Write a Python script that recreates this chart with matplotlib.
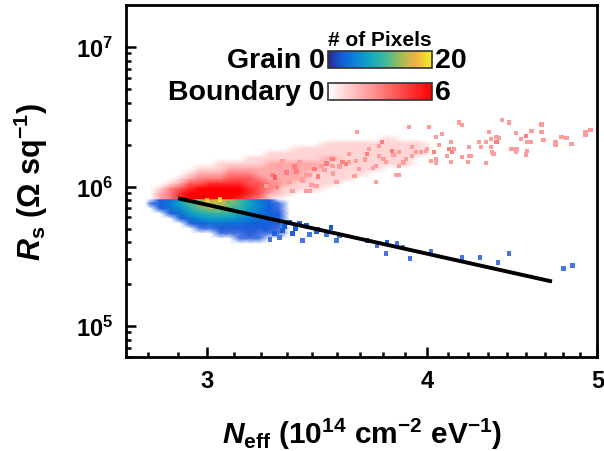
import numpy as np
import matplotlib.pyplot as plt
from matplotlib.colors import LinearSegmentedColormap, Normalize
from matplotlib.cm import ScalarMappable
from matplotlib.ticker import FixedLocator, NullFormatter

plt.rcParams['font.family'] = ['Liberation Sans', 'DejaVu Sans']
plt.rcParams['font.weight'] = 'bold'
plt.rcParams['axes.labelweight'] = 'bold'
plt.rcParams['mathtext.fontset'] = 'custom'
plt.rcParams['mathtext.rm'] = 'Liberation Sans:bold'
plt.rcParams['mathtext.it'] = 'Liberation Sans:italic:bold'
plt.rcParams['mathtext.bf'] = 'Liberation Sans:bold'
plt.rcParams['mathtext.default'] = 'rm'

# --- data (Neff in 1e14 cm^-2 eV^-1, Rs in 1e5 ohm/sq) ---
# dense part of the boundary pixels, counts on a grid
boundary_mesh_neff = [2.787, 2.823, 2.860, 2.898, 2.935, 2.974, 3.013, 3.052, 3.092, 3.133,
                      3.174, 3.215, 3.258, 3.322, 3.387, 3.454, 3.522, 3.592, 3.662, 3.734,
                      3.808, 3.883, 3.960, 4.038]
boundary_mesh_rs = [25.8, 23.7, 21.9, 20.2, 18.6, 17.1, 15.8, 14.6, 13.4, 12.3, 11.35,
                    10.45, 9.63, 8.87, 8.17]
boundary_mesh_counts = [
    [0, 0, 0, 0, 0, 0, 0, 0, 0, 0, 0, 0, 0, 0, 0, 0, 0, 0, 0, 0, 0, 0, 0, 0],
    [0, 0, 0, 0, 0, 0, 0, 0, 0, 0, 0, 0, 0, 0, 0, 0, 0, 0, 0, 0, 0, 0, 0, 0],
    [0, 0, 0, 0, 0, 0, 0, 0, 0, 0, 0, 0, 0, 0, 0, 0, 0, 0, 0, 0, 1, 0, 0, 0],
    [0, 0, 0, 0, 0, 0, 0, 0, 0, 0, 0, 0, 0, 0, 0, 0, 1, 1, 1, 1, 1, 1, 1, 0],
    [0, 0, 0, 0, 0, 0, 0, 0, 0, 0, 0, 0, 0, 0, 1, 1, 1, 1, 1, 1, 1, 1, 1, 0],
    [0, 0, 0, 0, 0, 0, 0, 0, 0, 0, 0, 0, 1, 1, 1, 1, 1, 1, 1, 1, 1, 1, 1, 0],
    [0, 0, 0, 0, 0, 0, 0, 0, 0, 0, 1, 1, 1, 1, 1, 1, 2, 1, 1, 1, 1, 1, 0, 0],
    [0, 0, 0, 0, 0, 0, 0, 1, 1, 1, 1, 1, 2, 2, 2, 2, 1, 1, 1, 1, 1, 1, 0, 0],
    [0, 0, 0, 0, 0, 1, 1, 1, 2, 2, 2, 2, 2, 2, 2, 2, 1, 1, 1, 1, 0, 0, 0, 0],
    [0, 0, 0, 0, 1, 2, 2, 2, 3, 3, 3, 2, 2, 2, 2, 1, 1, 1, 1, 0, 0, 0, 0, 0],
    [0, 0, 0, 1, 2, 3, 3, 3, 4, 4, 4, 3, 2, 2, 2, 1, 1, 1, 0, 0, 0, 0, 0, 0],
    [0, 0, 1, 2, 4, 4, 5, 5, 5, 5, 4, 4, 3, 2, 1, 1, 1, 0, 0, 0, 0, 0, 0, 0],
    [0, 1, 3, 4, 5, 6, 6, 6, 6, 6, 5, 4, 3, 1, 1, 1, 0, 0, 0, 0, 0, 0, 0, 0],
    [0, 2, 3, 5, 6, 6, 6, 6, 6, 6, 5, 4, 2, 1, 0, 0, 0, 0, 0, 0, 0, 0, 0, 0],
    [0, 2, 3, 5, 6, 6, 6, 6, 6, 5, 4, 3, 1, 0, 0, 0, 0, 0, 0, 0, 0, 0, 0, 0],
]

# dense part of the grain pixels
grain_mesh_neff = [2.769, 2.787, 2.823, 2.860, 2.898, 2.935, 2.974, 3.013, 3.052, 3.092,
                   3.133, 3.174, 3.215, 3.258, 3.300, 3.343]
grain_mesh_rs = [8.17, 7.53, 6.93, 6.38, 5.88, 5.42, 4.99, 4.60, 4.23, 3.90]
grain_mesh_counts = [
    [0, 0, 2, 3, 6, 9, 13, 16, 17, 15, 11, 7, 4, 2, 0, 0],
    [0, 1, 3, 5, 8, 11, 14, 16, 15, 13, 11, 8, 5, 3, 1, 0],
    [0, 0, 2, 4, 6, 9, 12, 13, 13, 12, 10, 7, 5, 3, 1, 0],
    [0, 0, 0, 2, 4, 7, 9, 10, 10, 10, 8, 6, 4, 3, 2, 0],
    [0, 0, 0, 0, 2, 4, 6, 7, 7, 7, 6, 5, 4, 3, 2, 0],
    [0, 0, 0, 0, 0, 2, 3, 4, 4, 4, 4, 3, 3, 2, 2, 0],
    [0, 0, 0, 0, 0, 0, 1, 1, 2, 2, 2, 2, 2, 2, 1, 0],
    [0, 0, 0, 0, 0, 0, 0, 0, 1, 1, 1, 2, 1, 1, 1, 0],
    [0, 0, 0, 0, 0, 0, 0, 0, 0, 0, 1, 1, 1, 0, 0, 0],
    [0, 0, 0, 0, 0, 0, 0, 0, 0, 0, 0, 0, 0, 0, 0, 0],
]

# sparse boundary pixels
boundary_neff = [3.652, 3.908, 3.774, 3.759, 3.923, 3.944, 3.823, 3.858, 3.710, 3.700,
                 3.615, 3.536, 3.648, 3.583, 3.509, 3.486, 3.569, 3.662, 3.744, 3.793,
                 3.858, 3.893, 3.843, 3.996, 3.455, 3.432, 3.555, 3.387, 3.374, 3.401,
                 3.343, 3.356, 3.418, 3.300, 3.313, 3.270, 3.245,
                 4.012, 4.049, 4.081, 3.970, 4.002, 4.039, 4.049, 4.049, 4.065, 4.023,
                 4.129, 4.118, 4.134, 4.145, 4.107, 4.129, 4.172, 4.188, 4.188, 4.227,
                 4.227, 4.221, 4.282, 4.293, 4.321, 4.349, 4.321, 4.338, 4.349, 4.383,
                 4.383, 4.395, 4.355, 4.366, 4.413, 4.453, 4.494, 4.523, 4.470, 4.499,
                 4.494, 4.553, 4.559, 4.582, 4.559, 4.553, 4.588, 4.648, 4.648, 4.660,
                 4.733, 4.733, 4.770, 4.801, 4.833, 4.922, 4.922, 4.954,
                 3.418, 3.401, 3.463, 3.536, 3.615, 3.759, 3.858, 3.923, 3.744, 3.432,
                 4.238, 4.553,
                 3.280, 3.330, 3.365, 3.470, 3.500, 3.600, 3.690, 3.730, 3.830, 3.880,
                 3.290, 3.440, 3.540, 3.640, 3.780]
boundary_rs = [24.5, 26.6, 20.9, 19.5, 19.2, 17.7, 18.0, 17.7, 18.6, 17.1,
               17.1, 15.8, 15.3, 15.0, 14.6, 14.1, 13.9, 13.4, 14.1, 15.0,
               14.1, 15.8, 12.1, 18.0, 13.4, 12.1, 10.8, 15.0, 12.8, 11.35,
               10.8, 9.3, 9.3, 14.1, 15.3, 12.1, 10.1,
               26.6, 22.6, 23.7, 17.7, 18.6, 17.7, 15.8, 14.8, 19.8, 15.3,
               20.9, 18.6, 17.7, 18.6, 16.5, 15.0, 28.8, 27.5, 16.2, 19.2,
               16.5, 15.0, 20.9, 19.2, 20.9, 19.2, 14.8, 24.5, 21.9, 22.6,
               20.9, 22.2, 17.7, 17.1, 29.9, 28.7, 24.1, 21.9, 18.6, 18.6,
               17.7, 23.0, 20.9, 20.9, 18.0, 16.8, 25.1, 27.9, 24.5, 21.5,
               20.9, 19.8, 22.6, 22.2, 20.2, 24.5, 23.3, 25.4,
               12.1, 11.0, 10.1, 14.1, 15.0, 16.5, 12.1, 16.5, 10.8, 9.3,
               16.5, 17.1,
               11.6, 12.6, 13.9, 11.8, 13.1, 14.5, 15.6, 13.6, 16.9, 14.9,
               9.9, 10.3, 12.4, 11.9, 15.7]
boundary_counts = [1, 1, 2, 1, 1, 1, 2, 1, 1, 2,
                   1, 2, 1, 2, 2, 1, 1, 1, 1, 1,
                   1, 1, 1, 1, 2, 1, 1, 1, 2, 1,
                   1, 1, 1, 1, 1, 2, 1,
                   1, 1, 1, 1, 1, 2, 1, 1, 1, 1,
                   1, 2, 2, 1, 1, 1, 1, 1, 1, 1,
                   1, 1, 1, 1, 1, 1, 1, 1, 1, 1,
                   2, 1, 1, 1, 1, 1, 1, 1, 1, 1,
                   1, 2, 1, 1, 1, 1, 1, 1, 1, 1,
                   1, 1, 1, 1, 1, 1, 1, 1,
                   1, 1, 1, 1, 1, 1, 1, 1, 1, 1,
                   1, 1,
                   3, 2, 2, 2, 1, 2, 1, 1, 1, 1,
                   2, 1, 1, 1, 1]

# sparse grain pixels (incl. a few busy pixels in the core)
grain_neff = [3.343, 3.387, 3.418, 3.468, 3.531, 3.569, 3.401, 3.300, 3.258, 3.700,
              3.749, 3.798, 3.848, 3.879, 3.793, 3.913, 4.023, 4.188, 4.287, 4.389,
              4.453, 4.783, 4.839, 3.463, 3.509, 3.555, 3.356, 3.313, 3.322, 3.369,
              3.432, 3.279, 3.237,
              3.001, 3.025, 3.052, 3.068, 3.017, 2.970, 3.090, 2.950, 3.110, 3.040]
grain_rs = [5.51, 5.42, 5.24, 4.91, 5.08, 4.45, 4.10, 4.30, 4.17, 4.10,
            3.77, 3.97, 3.90, 3.65, 3.31, 3.04, 3.42, 3.09, 3.09, 2.85,
            3.31, 2.58, 2.71, 4.75, 4.52, 4.10, 4.60, 4.83, 5.16, 4.99,
            4.52, 4.60, 4.99,
            7.95, 7.70, 8.05, 7.35, 7.10, 7.80, 7.60, 7.45, 7.05, 6.75]
grain_counts = [2, 2, 2, 2, 3, 1, 1, 1, 1, 3,
                1, 2, 1, 1, 1, 1, 1, 1, 1, 1,
                1, 1, 1, 2, 1, 1, 2, 2, 3, 2,
                1, 2, 3,
                18, 15, 19, 14, 16, 13, 12, 11, 10, 12]

# linear fit on log-log axes
fit_neff = [2.898, 4.70]
fit_rs = [8.17, 2.10]

# --- colours ---
parula = ['#2b2a8c', '#1458d8', '#0a80d8', '#10a8c0', '#40b89a', '#a0bd58',
          '#f0b040', '#f5f020']
parula_pos = [0.0, 0.12, 0.25, 0.4, 0.55, 0.7, 0.85, 1.0]
grain_cmap = LinearSegmentedColormap.from_list('grain', list(zip(parula_pos, parula)))
grain_draw = LinearSegmentedColormap.from_list(
    'grain_draw', [(0.0, '#ffffff'), (0.05, '#3c6ce0')] + list(zip(parula_pos[1:], parula[1:])))
bound_cmap = LinearSegmentedColormap.from_list('bound', ['#ffffff', '#ff0000'])
bound_dots = LinearSegmentedColormap.from_list(
    'bound_dots', [(0.0, '#ffffff'), (1 / 6, '#ff9c9c'), (1.0, '#ff0000')])
gnorm = Normalize(0, 20)
bnorm = Normalize(0, 6)

fig = plt.figure(figsize=(6.04, 4.52), dpi=100)
ax = fig.add_axes([0.2086, 0.208, 0.7805, 0.7787])

scale = 1e5
ax.pcolormesh(grain_mesh_neff, np.array(grain_mesh_rs) * scale, np.array(grain_mesh_counts),
              cmap=grain_draw, norm=gnorm, shading='gouraud', zorder=1)
ax.pcolormesh(boundary_mesh_neff, np.array(boundary_mesh_rs) * scale,
              np.array(boundary_mesh_counts), cmap=bound_cmap, norm=bnorm,
              shading='gouraud', zorder=1)
ax.scatter(grain_neff, np.array(grain_rs) * scale, c=grain_counts, cmap=grain_draw,
           norm=gnorm, marker='s', s=10, linewidths=0, zorder=2)
ax.scatter(boundary_neff, np.array(boundary_rs) * scale, c=boundary_counts,
           cmap=bound_dots, norm=bnorm, marker='s', s=10, linewidths=0, zorder=2)
ax.plot(fit_neff, np.array(fit_rs) * scale, color='black', lw=2.8, zorder=3)

ax.set_xscale('log')
ax.set_yscale('log')
ax.set_xlim(2.7, 5.0)
ax.set_ylim(6e4, 2e7)

ax.xaxis.set_major_locator(FixedLocator([3, 4, 5]))
ax.set_xticklabels(['3', '4', '5'])
minor_x = [2 + k / 9 for k in range(6, 27) if k % 9 != 0]
ax.xaxis.set_minor_locator(FixedLocator(minor_x))
ax.xaxis.set_minor_formatter(NullFormatter())
ax.yaxis.set_major_locator(FixedLocator([1e5, 1e6, 1e7]))
ax.set_yticklabels(['$10^5$', '$10^6$', '$10^7$'])
ax.yaxis.set_minor_locator(FixedLocator([m * 10 ** e for e in (4, 5, 6) for m in range(2, 10)]))
ax.yaxis.set_minor_formatter(NullFormatter())

ax.tick_params(which='both', direction='in', top=False, right=False, width=1.8,
               labelsize=17, pad=9)
ax.tick_params(which='major', length=7)
ax.tick_params(which='minor', length=3.5)
for sp in ax.spines.values():
    sp.set_linewidth(2)

ax.set_xlabel(r'$\mathit{N}_\mathrm{eff}$ (10$^{14}$ cm$^{-2}$ eV$^{-1}$)', fontsize=21.5,
              labelpad=17)
ax.set_ylabel(r'$\mathit{R}_\mathrm{s}$ ($\Omega$ sq$^{-1}$)', fontsize=22, labelpad=19)

# colour scale legends
cax1 = fig.add_axes([0.5435, 0.8467, 0.1712, 0.0389])
cax2 = fig.add_axes([0.5435, 0.7772, 0.1712, 0.0369])
for cax, cmap, norm, name, top in [(cax1, grain_cmap, gnorm, 'Grain', '20'),
                                   (cax2, bound_cmap, bnorm, 'Boundary', '6')]:
    cb = fig.colorbar(ScalarMappable(norm, cmap), cax=cax, orientation='horizontal')
    cb.set_ticks([])
    cb.outline.set_linewidth(1.2)
    cb.outline.set_edgecolor('#333333')
    cax.text(-0.035, 0.45, name + ' 0', transform=cax.transAxes, ha='right', va='center',
             fontsize=20.5)
    cax.text(1.03, 0.45, top, transform=cax.transAxes, ha='left', va='center', fontsize=20.5)
cax1.text(0.5, 1.1, '# of Pixels', transform=cax1.transAxes, ha='center', va='bottom',
          fontsize=15)

fig.savefig('out.png', dpi=100)
